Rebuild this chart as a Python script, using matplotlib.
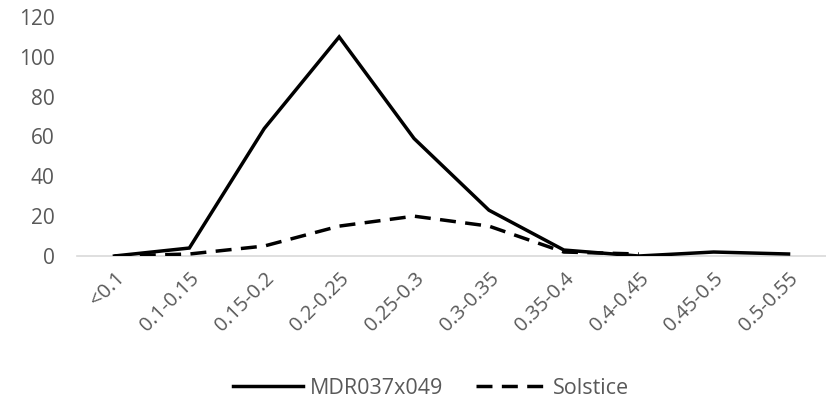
import numpy as np
import matplotlib.pyplot as plt

categories = ["<0.1", "0.1-0.15", "0.15-0.2", "0.2-0.25", "0.25-0.3",
              "0.3-0.35", "0.35-0.4", "0.4-0.45", "0.45-0.5", "0.5-0.55"]
mdr = [0, 4, 64, 110, 59, 23, 3, 0, 2, 1]
solstice = [0, 1, 5, 15, 20, 15, 2, 1, np.nan, np.nan]
yticks = [0, 20, 40, 60, 80, 100, 120]

plt.rcParams['font.family'] = ['Open Sans', 'DejaVu Sans']

fig = plt.figure(figsize=(8.26, 4.03), dpi=100)
ax = fig.add_axes([77 / 826, 147 / 403, 749 / 826, (403 - 17 - 147) / 403])

x = np.arange(len(categories))
ax.plot(x, mdr, color='black', lw=2.5, label='MDR037x049', solid_joinstyle='miter')
ax.plot(x, solstice, color='black', lw=2.5, dashes=(4.6, 2.7), label='Solstice')

ax.set_xlim(-0.5, len(categories) - 0.5)
ax.set_ylim(0, 120)
ax.set_yticks(yticks)
ax.set_xticks(x)
ax.set_xticklabels(categories, rotation=45, ha='right', rotation_mode='anchor',
                   fontsize=14.5)
ax.tick_params(axis='both', length=0, colors='#595959')
ax.tick_params(axis='y', pad=16, labelsize=15)
ax.tick_params(axis='x', pad=9)

for s in ['top', 'right', 'left']:
    ax.spines[s].set_visible(False)
ax.spines['bottom'].set_color('#d9d9d9')
ax.spines['bottom'].set_linewidth(1.2)
ax.spines['bottom'].set_zorder(0)

leg = fig.legend(loc='center', bbox_to_anchor=(431 / 826, 1 - 388 / 403), ncol=2,
                 frameon=False, fontsize=15.5, handlelength=3.25, handletextpad=0.33,
                 columnspacing=1.5)
for t in leg.get_texts():
    t.set_color('#595959')

plt.savefig("out.png")
